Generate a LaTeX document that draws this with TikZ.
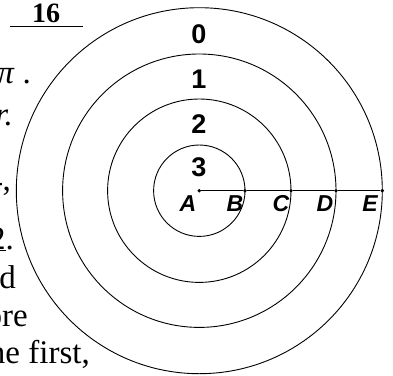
\documentclass[tikz,border=0pt]{standalone}
\usepackage{fontspec}
\setmainfont{Liberation Serif}
\newfontfamily\arialf{Liberation Sans}
\newfontfamily\arialbf{Liberation Sans Bold}
\newfontfamily\arialbi{Liberation Sans Bold Italic}
\newfontfamily\timesbf{Liberation Serif Bold}
\begin{document}
\begin{tikzpicture}[x=1pt,y=-1pt,
  ring/.style={draw=black,line width=0.9pt},
  dotpt/.style={circle,fill=black,inner sep=0pt,minimum size=3.8pt},
  ringlabel/.style={font=\arialbf\fontsize{27}{27}\selectfont,inner sep=0pt},
  ptlabel/.style={font=\arialbi\fontsize{23}{23}\selectfont,inner sep=0pt},
  pagetext/.style={font=\fontsize{33}{37}\selectfont,inner sep=0pt,anchor=base east}]
\useasboundingbox (0,0) rectangle (393,375);
\clip (0,0) rectangle (393,375);
% points
\node[dotpt] (A) at (199.3,190.7) {};
\node[dotpt] (B) at (245,190.7) {};
\node[dotpt] (C) at (291,190.7) {};
\node[dotpt] (D) at (336,190.7) {};
\node[dotpt] (E) at (382.3,190.7) {};
% circles
\draw[ring] (A.center) circle[radius=45.7];
\draw[ring] (A.center) circle[radius=91.7];
\draw[ring] (A.center) circle[radius=136.7];
\draw[ring] (A.center) circle[radius=183];
% segment
\draw[line width=0.9pt] (A) -- (B) -- (C) -- (D) -- (E);
% ring labels
\node[ringlabel] (l0) at (199,34) {0};
\node[ringlabel] (l1) at (199,79) {1};
\node[ringlabel] (l2) at (199,124) {2};
\node[ringlabel] (l3) at (199,167) {3};
% point labels
\node[ptlabel] (tA) at (188,204) {A};
\node[ptlabel] (tB) at (235,204) {B};
\node[ptlabel] (tC) at (281,204) {C};
\node[ptlabel] (tD) at (325,204) {D};
\node[ptlabel] (tE) at (370,204) {E};
% cropped page text on the left
\node[font=\timesbf\fontsize{28}{30}\selectfont,inner sep=0pt,anchor=base] (t16) at (46,22.5) {16};
\coordinate (u1) at (10,26.5);
\coordinate (u2) at (83,26.5);
\draw[line width=1.2pt] (u1) -- (u2);
\node[pagetext] (tpi) at (14,83) {\itshape π};
\node[pagetext] (tpd) at (31,83) {.};
\node[pagetext] (tr) at (13,125) {\itshape r.};
\node[pagetext] (t4) at (11,190) {4,};
\node[pagetext] (t2) at (14,249) {\underline{2}.};
\node[pagetext] (td) at (16,288) {d};
\node[pagetext] (tore) at (28,326) {ore};
\node[pagetext] (tfirst) at (90,363) {ne first,};
\end{tikzpicture}
\end{document}
